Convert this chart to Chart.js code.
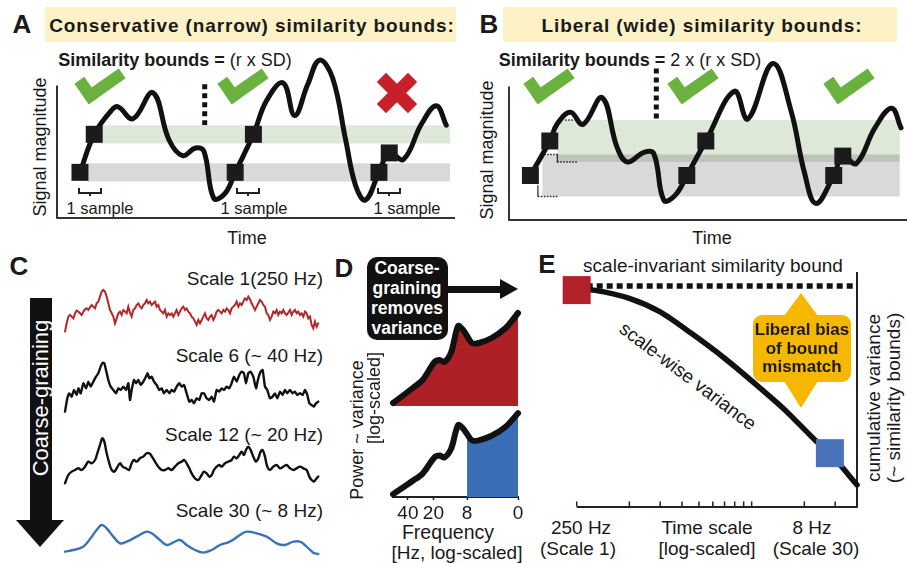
<!DOCTYPE html>
<html>
<head>
<meta charset="utf-8">
<title>Similarity bounds and coarse-graining</title>
<script src="https://cdn.jsdelivr.net/npm/chart.js@4.4.1/dist/chart.umd.min.js"></script>
<style>
  body { margin:0; width:907px; height:563px; overflow:hidden; background:#fff; position:relative;
         font-family:"Liberation Sans", Arial, sans-serif; color:#1a1a1a; }
  canvas { position:absolute; }
  .t { position:absolute; white-space:nowrap; transform:translate(-50%,-50%); line-height:1; }
  .r { transform:translate(-100%,-50%); }
  .b { font-weight:bold; }
  .panel { font-weight:bold; font-size:26px; }
  .hdr { position:absolute; background:#fdf1c8; }
  .check { position:absolute; width:13px; height:33px; border-right:12px solid #6ab23e; border-bottom:12px solid #6ab23e;
           transform:translate(-50%,-50%) rotate(55deg); }
  .cross { position:absolute; width:44px; height:13px; background:#c8202a; }
  .brk { position:absolute; width:20px; height:4px; border:2px solid #222; border-top:none; transform:translateX(-50%); }
  .brk::after { content:''; position:absolute; left:50%; margin-left:-1px; top:4px; width:2px; height:4px; background:#222; }
</style>
</head>
<body>

<!-- panel A -->
<div class="hdr" style="left:45px; top:7px; width:411px; height:35px;"></div>
<div class="t panel" style="left:22px; top:24px;">A</div>
<div class="t b" style="left:252px; top:25px; font-size:19px; letter-spacing:0.9px;">Conservative (narrow) similarity bounds:</div>
<div class="t" style="left:175px; top:60px; font-size:18px;"><b>Similarity bounds =</b> (r x SD)</div>
<div class="t" style="left:40px; top:147px; font-size:18px; transform:translate(-50%,-50%) rotate(-90deg);">Signal magnitude</div>
<div class="t" style="left:247px; top:238px; font-size:18px;">Time</div>
<div class="brk" style="left:90px; top:188px;"></div>
<div class="brk" style="left:248px; top:188px;"></div>
<div class="brk" style="left:389px; top:188px;"></div>
<div class="t" style="left:100px; top:208px; font-size:16.5px;">1 sample</div>
<div class="t" style="left:254px; top:208px; font-size:16.5px;">1 sample</div>
<div class="t" style="left:407px; top:208px; font-size:16.5px;">1 sample</div>
<div class="check" style="left:100px; top:81px;"></div>
<div class="check" style="left:243px; top:81px;"></div>
<div class="cross" style="left:397px; top:93px; transform:translate(-50%,-50%) rotate(45deg);"></div>
<div class="cross" style="left:397px; top:93px; transform:translate(-50%,-50%) rotate(-45deg);"></div>
<canvas id="chartA" width="420" height="190" style="left:45px; top:40px;"></canvas>

<!-- panel B -->
<div class="hdr" style="left:503px; top:7px; width:394px; height:35px;"></div>
<div class="t panel" style="left:489px; top:24px;">B</div>
<div class="t b" style="left:702px; top:25px; font-size:19px; letter-spacing:0.9px;">Liberal (wide) similarity bounds:</div>
<div class="t" style="left:630px; top:60px; font-size:18px;"><b>Similarity bounds =</b> 2 x (r x SD)</div>
<div class="t" style="left:487px; top:150px; font-size:18px; transform:translate(-50%,-50%) rotate(-90deg);">Signal magnitude</div>
<div class="t" style="left:712px; top:238px; font-size:18px;">Time</div>
<div class="check" style="left:549px; top:81px;"></div>
<div class="check" style="left:693px; top:81px;"></div>
<div class="check" style="left:849px; top:81px;"></div>
<canvas id="chartB" width="420" height="190" style="left:497px; top:42px;"></canvas>

<!-- panel C -->
<div class="t panel" style="left:19px; top:266px;">C</div>
<div style="position:absolute; left:30px; top:298px; width:22px; height:223px; background:#111;"></div>
<div style="position:absolute; left:16px; top:520px; width:0; height:0; border-left:24.5px solid transparent; border-right:24.5px solid transparent; border-top:27px solid #111;"></div>
<div class="t" style="left:41px; top:398px; font-size:22px; color:#fff; transform:translate(-50%,-50%) rotate(-90deg);">Coarse-graining</div>
<div class="t r" style="left:323px; top:278px; font-size:19px;">Scale 1(250 Hz)</div>
<div class="t r" style="left:323px; top:355px; font-size:19px;">Scale 6 (~ 40 Hz)</div>
<div class="t r" style="left:323px; top:434px; font-size:19px;">Scale 12 (~ 20 Hz)</div>
<div class="t r" style="left:323px; top:510px; font-size:19px;">Scale 30 (~ 8 Hz)</div>
<canvas id="chartC1" width="274" height="94" style="left:55px; top:260px;"></canvas>
<canvas id="chartC6" width="274" height="94" style="left:55px; top:330px;"></canvas>
<canvas id="chartC12" width="274" height="94" style="left:55px; top:410px;"></canvas>
<canvas id="chartC30" width="274" height="94" style="left:55px; top:490px;"></canvas>

<!-- panel D -->
<div class="t panel" style="left:344px; top:268px;">D</div>
<div style="position:absolute; left:367px; top:257px; width:81px; height:83px; background:#111; border-radius:10px;"></div>
<div class="t b" style="left:407px; top:298px; font-size:17.5px; line-height:20px; color:#fff; text-align:center;">Coarse-<br>graining<br>removes<br>variance</div>
<div style="position:absolute; left:447px; top:286px; width:56px; height:7px; background:#111;"></div>
<div style="position:absolute; left:500px; top:279px; width:0; height:0; border-top:10.5px solid transparent; border-bottom:10.5px solid transparent; border-left:18px solid #111;"></div>
<div class="t" style="left:357px; top:430px; font-size:18px; transform:translate(-50%,-50%) rotate(-90deg);">Power ~ variance</div>
<div class="t" style="left:374px; top:398px; font-size:18px; transform:translate(-50%,-50%) rotate(-90deg);">[log-scaled]</div>
<div class="t" style="left:448px; top:533px; font-size:19.5px;">Frequency</div>
<div class="t" style="left:457px; top:552px; font-size:19px;">[Hz, log-scaled]</div>
<canvas id="chartDtop" width="145" height="120" style="left:383px; top:296px;"></canvas>
<canvas id="chartDbot" width="145" height="130" style="left:383px; top:397px;"></canvas>

<!-- panel E -->
<div class="t panel" style="left:547px; top:264px;">E</div>
<div class="t" style="left:713px; top:265px; font-size:19px;">scale-invariant similarity bound</div>
<div class="t" style="left:688px; top:376px; font-size:19px; transform:translate(-50%,-50%) rotate(37deg);">scale-wise variance</div>
<div class="t" style="left:873px; top:398px; font-size:19px; transform:translate(-50%,-50%) rotate(-90deg);">cumulative variance</div>
<div class="t" style="left:893px; top:398px; font-size:19px; transform:translate(-50%,-50%) rotate(-90deg);">(~ similarity bounds)</div>
<div class="t" style="left:581px; top:527px; font-size:19px;">250 Hz</div>
<div class="t" style="left:578px; top:548px; font-size:19px;">(Scale 1)</div>
<div class="t" style="left:707px; top:527px; font-size:19px;">Time scale</div>
<div class="t" style="left:707px; top:548px; font-size:19px;">[log-scaled]</div>
<div class="t" style="left:812px; top:527px; font-size:19px;">8 Hz</div>
<div class="t" style="left:816px; top:548px; font-size:19px;">(Scale 30)</div>
<canvas id="chartE" width="387" height="313" style="left:520px; top:250px;"></canvas>
<div style="position:absolute; left:784px; top:293px; width:0; height:0; border-left:17px solid transparent; border-right:17px solid transparent; border-bottom:23px solid #f6b700;"></div>
<div style="position:absolute; left:784px; top:381px; width:0; height:0; border-left:17px solid transparent; border-right:17px solid transparent; border-top:27px solid #f6b700;"></div>
<div style="position:absolute; left:753px; top:315px; width:98px; height:67px; background:#f6b700; border-radius:9px;"></div>
<div class="t b" style="left:802px; top:349px; font-size:17px; line-height:18.5px; text-align:center;">Liberal bias<br>of bound<br>mismatch</div>

<script>
// --- A: conservative bounds (time 0-100, magnitude 0-100)
const curveA = [[5.8,27.5],[9.4,50.4],[13.7,64.7],[15.4,67],[19.2,59.8],[24.2,75.5],[28.3,47],[31.7,37.6],
  [35,42.2],[37.1,40.2],[39.6,11.8],[42.5,15],[45,27.5],[49.6,50.4],[52.9,70.6],[57.1,81.4],[60,61.8],
  [63.3,80.4],[66.3,95.1],[69.6,84.3],[72.9,47],[75.4,19.6],[77.9,10.8],[81.3,27.5],[83.9,39.2],
  [87.5,35.3],[92.1,56.9],[95.8,67.6],[98.3,55.9]];
const squaresA = [[5.8,27.5],[9.4,50.4],[45,27.5],[49.6,50.4],[81.3,27.5],[83.9,39.2]];
const boundHalfA = 5.5;
const bandRangeA = [7.5, 99.3];
const separatorA = [[37.3,80.6],[37.3,48.2]];

// --- B: liberal bounds
const curveB = [[5.4,26.8],[10.3,47.6],[12.2,58],[15.5,64.9],[18.7,57.6],[23.5,73.7],[27.3,43.7],[29.9,34.9],
  [34.1,40.8],[36.6,39.8],[39.1,11.9],[42,15],[44.9,26.8],[49.7,47.6],[56.9,77.6],[60.3,60.9],[66.6,94.3],
  [71.2,65.9],[74.6,28.6],[77.5,10],[82,26.8],[84.3,38.5],[87.7,34],[92.4,55.5],[96.6,67.3],[99,55.5]];
const squaresB = [[5.4,26.8],[10.3,47.6],[44.9,26.8],[49.7,47.6],[82,26.8],[84.3,38.5]];
const boundHalfB = 12.7;
const grayRangeB = [8.4, 98.7];
const greenRangeB = [12.2, 98.7];
const separatorB = [[37.2,91.2],[37.2,50]];

// --- C: coarse-grained traces (amplitude, arbitrary units)
const scale1 = [35,60,80,85,80,75,90,98,95,90,85,95,102,105,100,108,115,110,105,120,125,140,155,160,155,140,
  120,100,90,80,60,75,90,95,85,100,95,90,110,92,80,100,105,115,120,110,105,115,120,130,120,125,115,120,125,
  110,115,100,95,90,100,80,90,85,90,80,90,100,85,95,105,110,100,105,95,90,80,75,65,55,70,60,70,80,90,75,70,
  80,85,70,80,95,100,95,90,100,95,105,100,90,105,110,115,125,110,120,115,125,135,130,140,132,120,110,100,
  110,120,130,125,115,110,90,85,70,80,95,90,100,85,95,90,100,90,85,92,100,85,95,100,90,95,85,90,80,95,90,
  75,80,55,45,65,50,60];
const scale6 = [[0,5],[7,45],[13,60],[20,50],[27,70],[35,55],[40,75],[47,60],[55,90],[63,75],[70,95],[77,80],
  [85,95],[93,110],[100,120],[107,140],[113,152],[118,150],[123,130],[130,100],[137,80],[145,70],[153,60],
  [160,75],[167,70],[175,80],[183,70],[190,90],[195,40],[200,70],[207,100],[213,90],[220,100],[227,85],
  [235,95],[243,110],[248,120],[253,105],[260,110],[267,95],[275,85],[283,70],[290,75],[297,60],[305,70],
  [313,60],[320,70],[327,65],[335,80],[343,90],[350,80],[357,85],[365,60],[373,35],[380,40],[387,30],
  [395,45],[403,40],[410,60],[417,60],[425,45],[433,40],[440,50],[447,35],[455,70],[463,65],[470,75],
  [477,70],[485,80],[493,75],[500,90],[507,110],[515,95],[523,115],[530,125],[537,120],[543,90],[550,120],
  [557,125],[565,110],[573,75],[580,105],[587,125],[593,130],[600,80],[607,70],[615,45],[623,50],[630,60],
  [637,45],[645,65],[653,55],[660,70],[667,60],[675,70],[683,60],[690,65],[697,55],[705,60],[713,55],
  [720,70],[727,55],[733,30],[740,25],[747,20],[753,30],[760,35]];
const scale12 = [[0,30],[10,55],[20,65],[30,70],[40,75],[50,70],[60,80],[70,95],[80,90],[90,100],[97,120],
  [105,145],[112,165],[118,155],[125,120],[133,90],[140,70],[148,65],[155,75],[165,90],[173,80],[183,75],
  [192,70],[200,90],[207,100],[215,95],[225,105],[235,110],[245,120],[253,120],[261,110],[270,95],[280,80],
  [290,70],[300,70],[310,75],[320,70],[330,80],[340,90],[350,95],[357,100],[365,90],[373,75],[380,60],
  [390,45],[400,40],[410,55],[417,65],[425,60],[433,50],[440,55],[447,70],[455,80],[463,85],[470,80],
  [480,90],[490,95],[500,100],[507,110],[515,105],[523,115],[530,125],[537,115],[543,130],[550,140],
  [557,130],[565,110],[573,95],[580,105],[587,125],[593,130],[600,110],[607,80],[615,70],[625,80],[635,85],
  [645,75],[655,80],[665,85],[675,75],[685,70],[695,75],[705,80],[715,75],[725,70],[733,50],[740,40],
  [747,35],[755,45],[760,50]];
const scale30 = [[0,65],[25,70],[55,80],[80,110],[95,130],[110,145],[125,135],[145,110],[165,90],[185,95],
  [215,110],[245,125],[260,120],[285,100],[305,85],[330,95],[345,100],[365,85],[390,70],[415,62],[440,70],
  [465,85],[495,95],[525,115],[545,125],[575,120],[605,110],[635,90],[660,85],[685,95],[705,95],[725,80],
  [745,62],[760,58]];

// --- D: power spectrum (frequency in Hz, log power in arbitrary units)
const spectrum = [[60,3],[35,18],[26.8,26],[19.4,44],[16.9,46],[14.8,44],[12.3,54],[10.2,80],[8.9,76],
  [8,70],[7,63],[5.8,63],[4.1,68],[2.8,78],[2,93]];
const freqTicks = [40, 20, 8, 2];
const freqTickLabels = ['40', '20', '8', '0'];
const keptBelowHz = 8;

// --- E: variance across time scales
const scaleVariance = [[1,92.5],[1.25,92.3],[2,88.8],[3,83],[4.5,74],[7,63.3],[10.4,52.6],[15.5,41.3],
  [23,28.5],[28,22.9],[40,9.4]];
const invariantBound = 94;
const scaleMarks = [[1,92.3],[28,22.9]];
const timeScaleTicks = [1,2,3,4,5,6,7,8,9,10,20,30];

Chart.defaults.font.family = '"Liberation Sans", Arial, sans-serif';

const pts = a => a.map(([x, y]) => ({x, y}));
const hidden = (min, max, extra) => Object.assign({type:'linear', display:false, min, max}, extra || {});
const line = (data, color, width, extra) => Object.assign({data: pts(data), borderColor: color, borderWidth: width,
  pointRadius: 0, tension: 0, fill: false, clip: false, borderCapStyle: 'round', borderJoinStyle: 'round'}, extra || {});
const band = (x0, x1, lo, hi, color, order) => ({data: pts([[x0, hi], [x1, hi]]), borderWidth: 0, pointRadius: 0,
  fill: {value: lo}, backgroundColor: color, order});

function makeChart(id, datasets, scales, padding) {
  return new Chart(document.getElementById(id), {
    type: 'line',
    data: {datasets},
    options: {
      responsive: false, animation: false, events: [],
      layout: {padding},
      plugins: {legend: {display: false}, tooltip: {enabled: false}},
      scales
    }
  });
}

// panels A and B share a layout
function boundsPanel(id, curve, squares, grayBand, greenBand, separator, yTop, extras) {
  const sets = [
    line(squares, 'transparent', 0, {showLine: false, pointStyle: 'rect', pointRadius: 12,
      pointBackgroundColor: '#1b1b1b', pointBorderWidth: 0, order: 0}),
    line(curve, '#111', 5, {tension: 0.4, order: 1}),
    band(...grayBand, 'rgba(0,0,0,0.15)', 2),
    band(...greenBand, '#dde8d9', 3),
    line([[0, yTop], [0, 0], [100.5, 0]], '#333', 2, {order: 4, borderCapStyle: 'butt'}),
    line(separator, '#111', 5, {borderDash: [5, 4], borderCapStyle: 'butt', order: 4})
  ].concat(extras || []);
  return makeChart(id, sets, {x: hidden(0, 100), y: hidden(0, 100)}, 10);
}

const [sqA1, sqA2] = [squaresA[0][1], squaresA[1][1]];
boundsPanel('chartA', curveA, squaresA,
  [bandRangeA[0], bandRangeA[1], sqA1 - boundHalfA, sqA1 + boundHalfA],
  [bandRangeA[0], bandRangeA[1], sqA2 - boundHalfA, sqA2 + boundHalfA],
  separatorA, 79.4);

const [sqB1, sqB2] = [squaresB[0][1], squaresB[1][1]];
const dots = {borderDash: [1.5, 1.5], borderCapStyle: 'butt', order: 1};
boundsPanel('chartB', curveB, squaresB,
  [grayRangeB[0], grayRangeB[1], sqB1 - boundHalfB, sqB1 + boundHalfB],
  [greenRangeB[0], greenRangeB[1], sqB2 - boundHalfB, sqB2 + boundHalfB],
  separatorB, 80, [
    line([[8.9, sqB1 + boundHalfB], [12.2, sqB1 + boundHalfB]], '#222', 1.5, dots),
    line([[12.2, sqB2 - boundHalfB], [17.2, sqB2 - boundHalfB]], '#222', 1.5, dots),
    line([[7.3, sqB1 - boundHalfB], [12.2, sqB1 - boundHalfB]], '#222', 1.5, dots),
    line([[14.2, sqB2 + boundHalfB], [16.2, sqB2 + boundHalfB]], '#222', 1.5, dots),
    line([[12.2, sqB1 + boundHalfB], [12.2, sqB2 - boundHalfB]], '#222', 1.2, {order: 1, borderCapStyle: 'butt'}),
    line([[7.3, sqB1 - boundHalfB], [7.3, 21]], '#222', 1.2, {order: 1, borderCapStyle: 'butt'})
  ]);

// panel C: one strip per time scale
const strip = {top: 10, bottom: 10.7, left: 10, right: 10.7};
makeChart('chartC1', [line(scale1.map((v, i) => [i, v]), '#b3282b', 2, {borderJoinStyle: 'miter'})],
  {x: hidden(0, scale1.length - 1), y: hidden(0, 220)}, strip);
makeChart('chartC6', [line(scale6, '#111', 2.4, {tension: 0.15})],
  {x: hidden(0, 760), y: hidden(0, 220)}, strip);
makeChart('chartC12', [line(scale12, '#111', 2.4, {tension: 0.35})],
  {x: hidden(0, 760), y: hidden(0, 220)}, strip);
makeChart('chartC30', [line(scale30, '#3a72b8', 2.4, {tension: 0.4})],
  {x: hidden(0, 760), y: hidden(0, 220)}, strip);

// panel D: spectrum before and after coarse-graining
const freqAxis = extra => Object.assign({type: 'logarithmic', reverse: true, min: 2, max: 60, display: false}, extra || {});
makeChart('chartDtop', [line(spectrum, '#111', 6, {tension: 0.3, fill: 'origin', backgroundColor: '#ad2025'})],
  {x: freqAxis(), y: hidden(0, 100)}, 10);
makeChart('chartDbot', [
    line(spectrum, '#111', 6, {tension: 0.3, order: 0}),
    line(spectrum.filter(p => p[0] <= keptBelowHz), 'transparent', 0,
      {tension: 0.3, fill: 'origin', backgroundColor: '#3a6db5', order: 1})
  ], {
    x: freqAxis({
      display: true,
      afterBuildTicks: s => { s.ticks = freqTicks.map(v => ({value: v})); },
      afterFit: s => { s.height = 30; },
      border: {display: true, color: '#222', width: 2},
      grid: {display: true, drawOnChartArea: false, tickLength: 3, color: '#222', tickWidth: 1.5},
      ticks: {autoSkip: false, maxRotation: 0, minRotation: 0, padding: 2, color: '#1a1a1a',
        font: {size: 19}, callback: v => freqTickLabels[freqTicks.indexOf(v)]}
    }),
    y: hidden(0, 100)
  }, {top: 10, left: 10, right: 10, bottom: 0});

// panel E: scale-wise variance vs. fixed bound
makeChart('chartE', [
    line(scaleMarks.slice(0, 1), 'transparent', 0, {showLine: false, pointStyle: 'rect', pointRadius: 19.8,
      pointBackgroundColor: '#b0232a', pointBorderWidth: 0, order: 0}),
    line(scaleMarks.slice(1), 'transparent', 0, {showLine: false, pointStyle: 'rect', pointRadius: 19.8,
      pointBackgroundColor: '#4a72b8', pointBorderWidth: 0, order: 0}),
    line(scaleVariance, '#111', 5.5, {tension: 0.25, order: 1}),
    line([[1, invariantBound], [40, invariantBound]], '#111', 5.5, {borderDash: [6, 4], borderCapStyle: 'butt', order: 2}),
    line([[1, 0], [40, 0], [40, 100]], '#222', 2, {order: 3, borderCapStyle: 'butt'}),
    line(timeScaleTicks.map(v => [v, 1.3]), 'transparent', 0, {showLine: false, pointStyle: 'line', rotation: 90,
      pointRadius: 2.5, pointBorderColor: '#222', pointBorderWidth: 1.5, order: 3})
  ], {
    x: {type: 'logarithmic', display: false, min: 1, max: 40},
    y: hidden(0, 100)
  }, {left: 56.7, right: 50, top: 22, bottom: 56});
</script>
</body>
</html>
